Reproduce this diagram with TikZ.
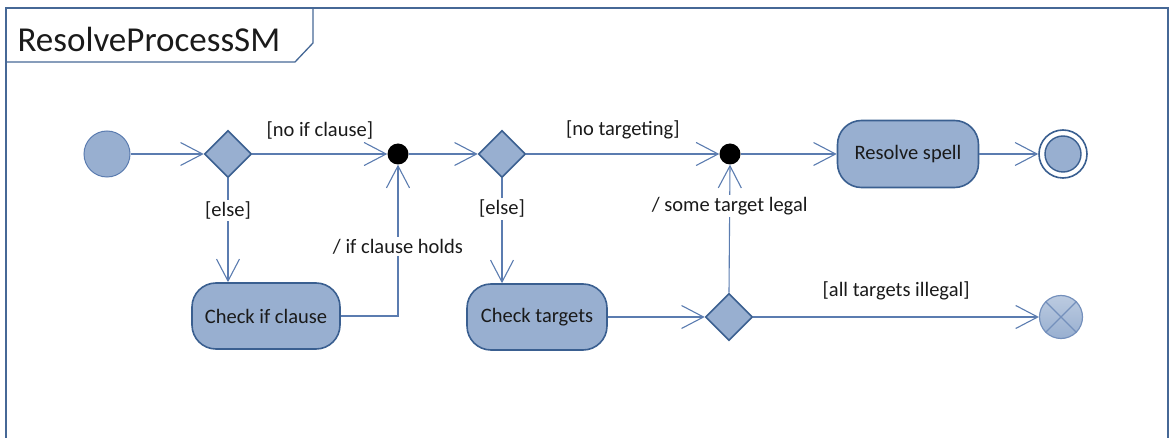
\documentclass[tikz,border=0pt]{standalone}
\usepackage{fontspec}
\setmainfont{Carlito}
\usetikzlibrary{arrows.meta,shapes.geometric,calc}

\definecolor{nodefill}{HTML}{98AFD0}
\definecolor{nodeline}{HTML}{3A5F90}
\definecolor{wireline}{HTML}{5B7CB0}
\definecolor{frameline}{HTML}{466896}
\definecolor{textcol}{HTML}{1A1A1A}

\tikzset{
  lbl/.style={font=\fontsize{20.5}{24}\selectfont, text=textcol},
  actbox/.style={lbl, draw=nodeline, line width=1.6pt, fill=nodefill,
    rounded corners=24pt, minimum height=66pt, inner sep=0pt},
  decision/.style={diamond, draw=nodeline, fill=nodefill, line width=1.6pt,
    minimum width=47pt, minimum height=47pt, inner sep=0pt},
  junction/.style={circle, fill=black, minimum size=21pt, inner sep=0pt},
  startnode/.style={circle, draw=wireline, line width=1pt, fill=nodefill,
    minimum size=46pt, inner sep=0pt},
  flow/.style={draw=wireline, line width=1.1pt,
    -{Straight Barb[length=22pt,width=23pt,line width=1.1pt]}},
  guard/.style={lbl, fill=white, inner sep=2pt},
}

\begin{document}
\begin{tikzpicture}[x=1pt,y=-1pt]
\useasboundingbox (0,0) rectangle (1173,438);

% frame and name tab
\draw[frameline, line width=2pt] (6,445) -- (6,8) -- (1168,8) -- (1168,445);
\draw[frameline, line width=1.3pt] (313,8) -- (313,43) -- (295,62) -- (6,62);
\node[anchor=west, font=\fontsize{35}{40}\selectfont, text=textcol] (title) at (14,39) {ResolveProcessSM};

% nodes
\node[startnode] (init) at (107,154) {};
\node[decision] (d1) at (228,154) {};
\node[junction] (j1) at (398,154) {};
\node[actbox, minimum width=148pt] (chk1) at (266,316) {Check if clause};
\node[decision] (d2) at (502,154) {};
\node[actbox, minimum width=140pt] (chk2) at (537,317) {Check targets};
\node[junction] (j2) at (730,154) {};
\node[decision] (d3) at (729,317) {};
\node[actbox, minimum width=141pt, minimum height=67pt] (rs) at (908,154) {Resolve spell};
\node[circle, draw=nodeline, line width=1.6pt, fill=white, minimum size=48pt, inner sep=0pt] (fin) at (1063,154) {};
\node[circle, draw=nodeline, line width=1.4pt, fill=nodefill, minimum size=36pt, inner sep=0pt] (fincore) at (fin.center) {};
\node[circle, draw=wireline!85, line width=1.2pt, top color=nodefill!65, bottom color=nodefill,
  minimum size=43pt, inner sep=0pt] (xend) at (1061,317) {};
\draw[wireline!85, line width=1.2pt] (xend.north west) -- (xend.south east)
  (xend.north east) -- (xend.south west);

% transitions
\draw[flow] (init) -- (d1);
\draw[flow] (d1) -- node[lbl, above=11pt] (g1) {[no if clause]} (j1);
\draw[flow] (d1.south) -- node[guard, pos=0.31] (g2) {[else]} (d1.south |- chk1.north);
\draw[flow] (chk1.east) -| node[guard, pos=0.73] (g3) {/ if clause holds} (j1.south);
\draw[flow] (j1) -- (d2);
\draw[flow] (d2) -- node[lbl, above=11pt] (g4) {[no targeting]} (j2);
\draw[flow] (d2.south) -- node[guard, pos=0.29] (g5) {[else]} (d2.south |- chk2.north);
\draw[flow] (chk2) -- (d3);
\draw[flow] (d3.north) -- node[guard, pos=0.68] (g6) {/ some target legal} (j2.south);
\draw[flow] (j2) -- (rs);
\draw[flow] (rs) -- (fin);
\draw[flow] (d3) -- node[lbl, above=13pt] (g7) {[all targets illegal]} (xend);
\end{tikzpicture}
\end{document}
